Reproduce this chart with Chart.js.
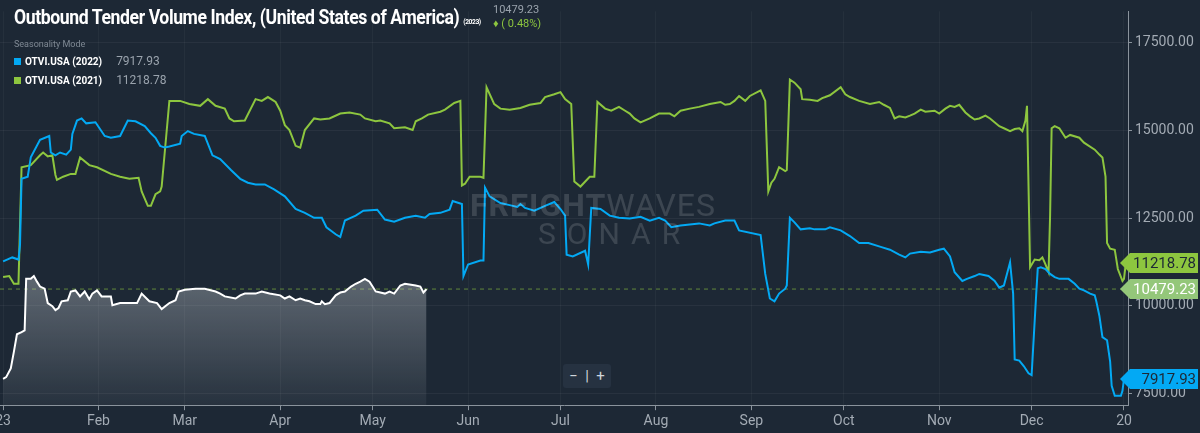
<!DOCTYPE html>
<html>
<head>
<meta charset="utf-8">
<script src="https://cdn.jsdelivr.net/npm/chart.js@4"></script>
<style>
  html, body { margin: 0; padding: 0; background: #1d2835; overflow: hidden; }
  #wrap { position: relative; width: 1200px; height: 433px; font-family: Roboto, sans-serif; }
  canvas { position: absolute; left: 0; top: 0; }
  .titol { position: absolute; left: 14px; top: 5px; color: #fff; font-weight: bold; font-size: 21px; letter-spacing: -0.5px; transform: scaleX(0.84); transform-origin: left; white-space: nowrap; }
  .titol small { font-size: 8px; }
  .ultim { position: absolute; left: 493px; top: 3px; color: #9aa3ad; font-size: 11px; line-height: 14px; }
  .ultim span { color: #8dc63f; }
  .mode { position: absolute; left: 14px; top: 39px; color: #7f8994; font-size: 9px; }
  .fila { position: absolute; left: 14px; font-size: 10px; color: #fff; font-weight: bold; }
  .fila i { display: inline-block; width: 7px; height: 7px; margin-right: 4px; }
  .fila b { font-weight: normal; color: #9aa3ad; font-size: 12px; margin-left: 14px; }
  .marca { position: absolute; left: 470px; top: 186px; color: rgba(255,255,255,0.14); font-size: 32px; letter-spacing: 1px; white-space: nowrap; }
  .marca .s { display: block; margin-left: 68px; letter-spacing: 11px; font-size: 30px; margin-top: -8px; }
  .zoom { position: absolute; left: 563px; top: 364px; width: 48px; height: 24px; background: #263241; border-radius: 3px; color: #cfd5db; font-size: 15px; text-align: center; line-height: 24px; }
</style>
</head>
<body>
<div id="wrap">
  <canvas id="grafic-otvi" width="1200" height="433"></canvas>
  <div class="marca"><b>FREIGHT</b>WAVES<span class="s">SONAR</span></div>
  <div class="titol">Outbound Tender Volume Index, (United States of America) <small>(2023)</small></div>
  <div class="ultim">10479.23<br><span>♦ ( 0.48%)</span></div>
  <div class="mode">Seasonality Mode</div>
  <div class="fila" style="top:54px"><i style="background:#03a9f4"></i>OTVI.USA (2022)<b>7917.93</b></div>
  <div class="fila" style="top:73px"><i style="background:#8dc63f"></i>OTVI.USA (2021)<b>11218.78</b></div>
  <div class="zoom">−&nbsp;&nbsp;|&nbsp;&nbsp;+</div>
</div>
<script>
// [dia de l'any, valor]
const otvi2022 = [[0,11270],[3,11380],[5,11320],[5.5,11740],[6,13620],[8,13680],[9,14230],[12,14730],[15,14840],[15.5,14370],[17,14290],[18.5,14370],[20.5,14310],[22,14450],[22.5,14900],[24,15280],[25.5,15340],[27,15200],[30,15230],[33,14840],[35,14790],[38,14840],[40.5,15280],[43,15260],[46,15120],[48,14920],[49.5,14790],[51,14560],[52.5,14510],[54,14540],[57.5,14620],[58,14840],[60,14980],[62,14900],[65.5,14840],[68,14290],[70.5,14180],[74,13870],[77,13620],[79.5,13510],[82,13460],[85,13460],[88,13320],[91.5,13120],[95,12760],[98,12650],[101,12510],[103.5,12510],[105,12240],[108,12040],[109.5,11960],[111,12430],[114.5,12570],[117,12710],[121.5,12740],[124,12460],[127,12400],[130.5,12510],[134,12570],[137,12510],[138.5,12620],[142,12650],[145,12740],[146,12990],[149,12900],[149.5,10850],[151,11180],[155,11290],[156,11290],[156.5,13370],[158,13120],[161.5,12930],[164.5,12870],[167,12820],[168,12900],[169.5,12790],[172.5,12710],[176,12850],[179,12960],[181,12760],[182.5,12570],[183,11460],[185,11410],[189,11570],[190,11180],[191,12790],[194,12760],[197,12570],[200,12510],[203.5,12490],[207,12540],[210,12430],[213,12510],[215,12430],[217,12240],[220,12290],[223,12320],[226,12350],[229.5,12290],[231,12350],[234.5,12430],[237.5,12430],[239,12150],[246,12020],[247.5,10910],[249,10210],[250.5,10130],[252,10350],[254,10490],[254.5,10580],[255.5,12510],[257,12380],[259,12180],[262,12210],[263.5,12180],[267,12180],[268.5,12240],[272,12150],[275,11990],[278,11790],[281,11790],[285,11680],[288,11600],[291,11460],[293,11380],[294.5,11490],[298,11540],[301,11520],[304,11600],[305.5,11630],[307.5,11410],[309,10960],[311.5,10710],[313,10770],[315.5,10850],[317,10910],[320,10850],[322,10710],[323.5,10520],[325,10580],[327,11240],[328,10350],[328.5,8470],[330,8440],[331.5,8280],[333,8080],[334,8030],[335.5,10350],[336,11070],[337,11100],[338.5,11050],[340,10910],[341.5,10820],[343,10770],[346,10770],[348,10630],[349.5,10490],[351,10440],[353,10350],[354.5,10300],[355,10130],[356,9720],[357,9110],[358.5,9020],[359.5,8410],[360,7720],[361,7440],[363,7440],[363.5,7580],[364,7918]];

const otvi2021 = [[0,10820],[2,10850],[3.5,10630],[5,10630],[6,13950],[9,14010],[12,14290],[13,14370],[14.5,14260],[16,14290],[17,13730],[17.5,13590],[19.5,13680],[22,13760],[23.5,13760],[25,14230],[28,14010],[30.5,13950],[35,13760],[38,13680],[41,13620],[44,13650],[45,13260],[47,12850],[48,12850],[49.5,13180],[51,13260],[51.5,13400],[54,15840],[57.5,15840],[60.5,15750],[64,15700],[66.5,15890],[69,15700],[72,15620],[73.5,15340],[75,15260],[78.5,15280],[82,15890],[84,15840],[86,15950],[88.5,15810],[90,15560],[91.5,15150],[93,15010],[95,14560],[96.5,14510],[98,15010],[101,15340],[103,15310],[106,15340],[109.5,15480],[112.5,15510],[116,15450],[117.5,15340],[121,15260],[122.5,15280],[125.5,15200],[127,15060],[130.5,15090],[133,15010],[134,15260],[136,15340],[138,15450],[142,15530],[143.5,15590],[146.5,15780],[148.5,15840],[149,13430],[150,13480],[151.5,13680],[155,13680],[156,13650],[157,16230],[159.5,15750],[161.5,15620],[164.5,15590],[168,15640],[171,15730],[174.5,15780],[176,15950],[179,16030],[181,16090],[182.5,15890],[184.5,15750],[185.5,13540],[187.5,13400],[190.5,13680],[192,13680],[193,15810],[195.5,15620],[197.5,15560],[200,15670],[202,15560],[203.5,15480],[205,15340],[207,15230],[210,15340],[213,15480],[216.5,15480],[218,15400],[220,15560],[223,15620],[226,15670],[229.5,15750],[233,15810],[234.5,15730],[236,15750],[237.5,15840],[239,15980],[241,15840],[242.5,15980],[246,16140],[247.5,15840],[248.5,13260],[249.5,13510],[250.5,13620],[252,13950],[254,13840],[254.5,13870],[255.5,16450],[257,16360],[259,16170],[259.5,15890],[262,15870],[264.5,15840],[266,15920],[267,15950],[268.5,16000],[272,16230],[273.5,16030],[275,15950],[278,15840],[281.5,15750],[284.5,15810],[286,15730],[288,15640],[289.5,15340],[291,15400],[293,15370],[294.5,15420],[296,15480],[298,15590],[299.5,15530],[302.5,15560],[304,15480],[306,15620],[307.5,15700],[309,15670],[310.5,15730],[312.5,15510],[314,15400],[315.5,15310],[317,15340],[319,15420],[320.5,15340],[323.5,15120],[325,15060],[327,14980],[328.5,15040],[330,15060],[331,14980],[332,15280],[332.5,15700],[333.5,11100],[335,11320],[336.5,11300],[337.5,11380],[338.5,11180],[339.5,10960],[340,12570],[340.5,15060],[341.5,15120],[343,15060],[345,14790],[346.5,14870],[349.5,14790],[351,14650],[354.5,14450],[356,14310],[357,14230],[358,13680],[358.5,11790],[359.5,11630],[361,11600],[362,11050],[363.5,10710],[364,10770],[364.6,11219]];

const otvi2023 = [[0,7920],[1,7970],[2.5,8220],[3.5,8690],[4.5,9190],[6,9250],[7,9300],[7.5,10770],[9,10770],[10,10850],[11,10690],[12,10550],[13.5,10490],[14.5,10080],[16,9990],[17,9880],[18,9940],[19,10130],[21,10160],[22,10410],[23.5,10440],[25,10270],[26.5,10410],[28,10190],[29,10350],[30.5,10440],[32,10270],[35,10270],[35.5,10020],[38,10080],[41,10080],[43.5,10080],[45,10350],[47.5,10130],[50,10080],[51.5,9910],[54,10080],[56,10160],[57,10410],[59,10460],[62.5,10490],[65.5,10490],[69,10410],[70.5,10350],[72,10270],[75.5,10210],[77,10300],[78.5,10350],[82,10350],[84,10410],[86.5,10350],[90,10300],[91.5,10210],[93,10270],[95,10160],[96.5,10210],[98,10160],[99.5,10130],[101.5,10050],[103,10050],[103.5,10130],[104.5,10050],[106,10080],[108,10300],[109.5,10380],[111,10410],[113,10550],[114.5,10630],[116,10690],[117.5,10770],[119,10690],[121,10410],[124,10350],[125.5,10410],[127,10350],[129,10580],[130.5,10630],[134,10580],[135.5,10550],[136.5,10380],[137.5,10479.23]];

const mesos = {0: '23', 31: 'Feb', 59: 'Mar', 90: 'Apr', 120: 'May', 151: 'Jun', 181: 'Jul', 212: 'Aug', 243: 'Sep', 273: 'Oct', 304: 'Nov', 334: 'Dec', 364: '20'};

const aPunts = arr => arr.map(p => ({ x: p[0], y: p[1] }));

const etiquetes = [
    { valor: 11218.78, fons: '#8dc63f', text: '#1d2835' },
    { valor: 10479.23, fons: '#94c77a', text: '#ffffff' },
    { valor: 7917.93, fons: '#03a9f4', text: '#1d2835' }
];

const pluginEtiquetes = {
    id: 'etiquetes',
    beforeDatasetsDraw(chart) {
        const { ctx, chartArea, scales } = chart;
        const y = scales.y.getPixelForValue(10479.23);
        ctx.save();
        ctx.strokeStyle = 'rgba(141,198,63,0.6)';
        ctx.setLineDash([4, 4]);
        ctx.lineWidth = 1;
        ctx.beginPath();
        ctx.moveTo(chartArea.left, y);
        ctx.lineTo(chartArea.right, y);
        ctx.stroke();
        ctx.restore();
    },
    afterDraw(chart) {
        const { ctx, chartArea, scales } = chart;
        ctx.save();
        ctx.font = '15px Roboto';
        ctx.textBaseline = 'middle';
        etiquetes.forEach(e => {
            const y = scales.y.getPixelForValue(e.valor);
            const x0 = chartArea.right - 8;
            ctx.fillStyle = e.fons;
            ctx.beginPath();
            ctx.moveTo(x0, y);
            ctx.lineTo(x0 + 10, y - 10);
            ctx.lineTo(1198, y - 10);
            ctx.lineTo(1198, y + 10);
            ctx.lineTo(x0 + 10, y + 10);
            ctx.closePath();
            ctx.fill();
            ctx.fillStyle = e.text;
            ctx.textAlign = 'right';
            ctx.fillText(e.valor.toFixed(2), 1196, y + 1);
        });
        ctx.restore();
    }
};

const llenç = document.getElementById('grafic-otvi');
const ctx = llenç.getContext('2d');
const gradient = ctx.createLinearGradient(0, 270, 0, 405);
gradient.addColorStop(0, 'rgba(210,215,220,0.38)');
gradient.addColorStop(1, 'rgba(210,215,220,0.06)');

new Chart(ctx, {
    type: 'line',
    data: {
        datasets: [
            { label: 'OTVI.USA (2023)', data: aPunts(otvi2023), borderColor: '#ffffff', backgroundColor: gradient, fill: 'start', borderWidth: 2, pointRadius: 0, tension: 0 },
            { label: 'OTVI.USA (2022)', data: aPunts(otvi2022), borderColor: '#03a9f4', borderWidth: 2, pointRadius: 0, tension: 0 },
            { label: 'OTVI.USA (2021)', data: aPunts(otvi2021), borderColor: '#8dc63f', borderWidth: 2, pointRadius: 0, tension: 0 }
        ]
    },
    options: {
        responsive: false,
        animation: false,
        layout: { padding: 0 },
        scales: {
            x: {
                type: 'linear',
                min: -1,
                max: 365.3,
                afterBuildTicks: axis => { axis.ticks = Object.keys(mesos).map(v => ({ value: Number(v) })); },
                afterFit: axis => { axis.paddingLeft = 0; axis.paddingRight = 0; },
                ticks: { color: '#a3abb4', font: { family: 'Roboto', size: 14 }, maxRotation: 0, autoSkip: false, callback: v => mesos[v] },
                grid: { color: 'rgba(255,255,255,0.04)', tickColor: '#8a939c', tickLength: 5 },
                border: { color: '#8a939c' }
            },
            y: {
                position: 'right',
                min: 7170,
                max: 18390,
                afterBuildTicks: axis => { axis.ticks = [7500, 10000, 12500, 15000, 17500].map(v => ({ value: v })); },
                afterFit: axis => { axis.width = 72; },
                ticks: { color: '#a3abb4', font: { family: 'Roboto', size: 14 }, callback: v => v.toFixed(2) },
                grid: { color: 'rgba(255,255,255,0.05)', tickColor: '#8a939c', tickLength: 4 },
                border: { color: '#8a939c' }
            }
        },
        plugins: { legend: { display: false }, tooltip: { enabled: false } }
    },
    plugins: [pluginEtiquetes]
});
</script>
</body>
</html>
